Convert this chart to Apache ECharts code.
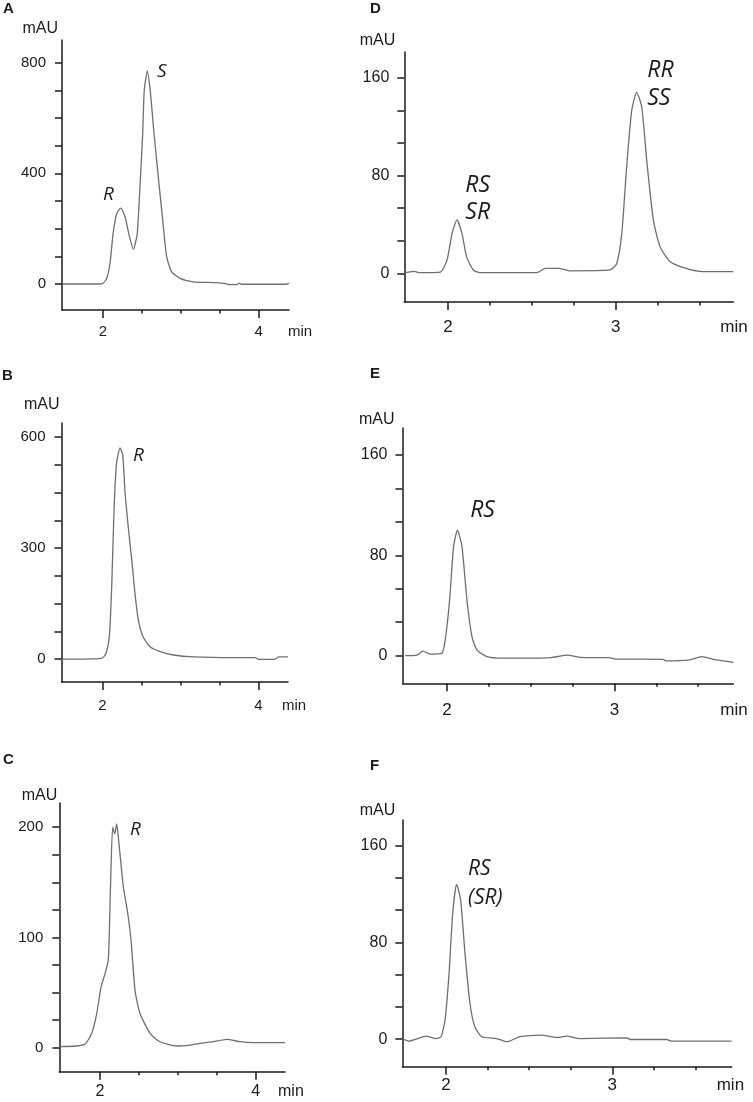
<!DOCTYPE html>
<html><head><meta charset="utf-8">
<script src="https://cdn.jsdelivr.net/npm/echarts@6/dist/echarts.min.js"></script>
<style>html,body{margin:0;padding:0;background:#fff}#c{width:753px;height:1102px}</style>
</head><body><div id="c"></div>
<script>
// ---- data (time in min, absorbance in mAU) ----
const timeA=[1.48,1.95,2.0,2.047,2.09,2.13,2.176,2.228,2.283,2.34,2.39,2.44,2.475,2.51,2.53,2.57,2.61,2.655,2.71,2.767,2.818,2.88,2.99,3.16,3.46,3.58,3.62,3.72,3.75,3.78,4.35,4.39];
const valA=[0,0,3,20,75,183,255,274,243,171,125,183,352,545,701,770,689,545,388,231,99,45,20,8,5,1,-2,-2,3,-1,-1,2];
const timeB=[1.48,1.99,2.045,2.087,2.118,2.148,2.18,2.225,2.26,2.29,2.33,2.375,2.417,2.46,2.52,2.61,2.74,2.91,3.17,3.68,3.96,4.0,4.21,4.26,4.38];
const valB=[0,2,15,60,195,403,529,571,551,448,358,268,177,105,60,33,20,11,6,4,4,-1,-1,6,6];
const timeC=[1.48,1.70,1.81,1.893,1.958,2.013,2.064,2.107,2.137,2.163,2.19,2.214,2.248,2.30,2.356,2.398,2.45,2.514,2.643,2.77,2.986,3.157,3.285,3.456,3.628,3.80,3.97,4.377];
const valC=[1,1.5,3.3,13,31,55,67,80,152,200,194,203,182,146,122,98,52,31,13,5.4,1.5,2.4,3.9,5.4,7.6,5.4,4.5,4.5];
const timeD=[1.745,1.80,1.83,1.954,1.994,2.024,2.053,2.083,2.11,2.15,2.19,2.53,2.58,2.66,2.73,2.966,3.006,3.036,3.065,3.095,3.125,3.155,3.185,3.224,3.264,3.325,3.42,3.52,3.70];
const valD=[0.5,1.5,0.5,1,10.9,32.7,43.6,32.7,13.6,2.7,0.5,0.5,4,4,2,2.7,8,32.7,87,133,148,136,92,43.6,21.8,9.5,4,1.4,1.4];
const timeE=[1.751,1.82,1.857,1.90,1.97,1.99,2.016,2.04,2.063,2.09,2.12,2.15,2.18,2.24,2.34,2.44,2.62,2.72,2.80,2.97,3.01,3.29,3.31,3.45,3.52,3.61,3.71];
const valE=[0,0.5,3.7,1.3,1.9,12.5,44,87,100,87,44,15,4.5,-0.8,-2,-2,-1.6,0.5,-1.3,-1.6,-2.7,-2.9,-4.2,-3.4,-0.8,-3.4,-5.3];
const timeF=[1.743,1.78,1.82,1.88,1.94,1.97,1.994,2.018,2.04,2.064,2.088,2.114,2.144,2.174,2.215,2.305,2.365,2.445,2.575,2.666,2.726,2.806,3.087,3.107,3.327,3.357,3.718];
const valF=[0,-1.7,0,2.5,0.5,2,15.7,54,104,128,115,71,29.5,10,2,0.5,-2.2,2,3.3,1.4,2.5,0.5,1.1,-0.3,-0.3,-1.7,-1.7];

// ---- ticks / labels ----
const yTicksA=[0,100,200,300,400,500,600,700,800], yLabelsA=[0,400,800];
const yTicksB=[0,75,150,225,300,375,450,525,600], yLabelsB=[0,300,600];
const yTicksC=[0,25,50,75,100,125,150,175,200], yLabelsC=[0,100,200];
const yTicksR=[0,80/3,160/3,80,320/3,400/3,160], yLabelsR=[0,80,160];
const xMinorL=[2.5,3,3.5], xMajorL=[2,4];
const xMinorR=[2.25,2.5,2.75,3.25,3.5], xMajorR=[2,3];
const panelLetters=['A','B','C','D','E','F'];
const yUnit='mAU', xUnit='min';
// peak annotations: panel index, text, time (left edge), mAU (vertical centre)
const peakPanel=[0,0,1,2,3,3,3,3,4,5,5];
const peakText=['S','R','R','R','RR','SS','RS','SR','RS','RS','(SR)'];
const peakTime=[2.694,2.0,2.392,2.386,3.188,3.188,2.103,2.103,2.139,2.132,2.132];
const peakVal=[766,322,551,198,166,142.6,72.2,49.7,116,141,117];

// ---- layout / styling ----
const INK='#1b1b1b', LINE='#6f6f6f';
const panels=[
 {grid:{left:62,top:40,width:227,height:270}, x:[1.473,4.39], y:[-94,882], t:timeA,v:valA, yt:yTicksA,yl:yLabelsA, xmi:xMinorL,xma:xMajorL, ys:15,xs:15,xm:14,ym:16,ngx:-1,ngy:11,npy:4,ns:16, letter:[3,1], ps:19},
 {grid:{left:61.5,top:423,width:226.5,height:259}, x:[1.474,4.38], y:[-62,638], t:timeB,v:valB, yt:yTicksB,yl:yLabelsB, xmi:xMinorL,xma:xMajorL, ys:15,xs:15,xm:16,ym:16,ngx:-6,ngy:18,npy:2,ns:16, letter:[2,368], ps:19},
 {grid:{left:59.3,top:803,width:225.7,height:268.7}, x:[1.477,4.377], y:[-21.8,222], t:timeC,v:valC, yt:yTicksC,yl:yLabelsC, xmi:xMinorL,xma:xMajorL, ys:15,xs:16,xm:12,ym:16,ngx:-7,ngy:7,npy:2,ns:16, letter:[3,752], ps:19},
 {grid:{left:404.3,top:52,width:329,height:250}, x:[1.739,3.701], y:[-23.5,181], t:timeD,v:valD, yt:yTicksR,yl:yLabelsR, xmi:xMinorR,xma:xMajorR, ys:16,xs:17,xm:17,ym:15,ngx:-13,ngy:11,npy:9,ns:16, letter:[370,1], ps:23},
 {grid:{left:402.5,top:428,width:330.8,height:255.3}, x:[1.735,3.71], y:[-22,181.5], t:timeE,v:valE, yt:yTicksR,yl:yLabelsR, xmi:xMinorR,xma:xMajorR, ys:16,xs:17,xm:19,ym:15,ngx:-13,ngy:8,npy:8,ns:16, letter:[370,366], ps:23},
 {grid:{left:402.3,top:820,width:329.4,height:246.7}, x:[1.737,3.718], y:[-22.8,181.3], t:timeF,v:valF, yt:yTicksR,yl:yLabelsR, xmi:xMinorR,xma:xMajorR, ys:16,xs:17,xm:10,ym:15,ngx:-15,ngy:9,npy:7,ns:16, letter:[370,758], ps:21}
];
const FONT='"Liberation Sans", Arial, sans-serif';

const chart=echarts.init(document.getElementById('c'),null,{renderer:'canvas'});
const option={animation:false,backgroundColor:'#fff',title:[],grid:[],xAxis:[],yAxis:[],series:[]};
const lineSt={color:INK,width:1.5};
panels.forEach((p,i)=>{
  option.grid.push(Object.assign({outerBoundsMode:'none',containLabel:false},p.grid));
  option.xAxis.push({type:'value',gridIndex:i,position:'bottom',offset:0,min:p.x[0],max:p.x[1],
    axisLine:{show:true,onZero:false,lineStyle:lineSt},splitLine:{show:false},
    axisTick:{show:true,customValues:p.xmi,length:3.5,lineStyle:lineSt},axisLabel:{show:false}});
  option.xAxis.push({type:'value',gridIndex:i,position:'bottom',offset:0,min:p.x[0],max:p.x[1],
    axisLine:{show:false,onZero:false},splitLine:{show:false},
    axisTick:{show:true,customValues:p.xma,length:8,lineStyle:lineSt},
    axisLabel:{show:true,customValues:p.xma,margin:p.xm,fontSize:p.xs,color:INK,fontFamily:FONT,verticalAlign:'top'},
    name:xUnit,nameLocation:'end',nameGap:p.ngx,
    nameTextStyle:{align:'left',verticalAlign:'top',padding:[p.xm,0,0,0],fontSize:p.xs,color:INK,fontFamily:FONT}});
  option.yAxis.push({type:'value',gridIndex:i,position:'left',min:p.y[0],max:p.y[1],
    axisLine:{show:true,onZero:false,lineStyle:lineSt},splitLine:{show:false},
    axisTick:{show:true,customValues:p.yt,length:7,lineStyle:lineSt},
    axisLabel:{show:true,customValues:p.yl,margin:p.ym,fontSize:p.ys,color:INK,fontFamily:FONT},
    name:yUnit,nameLocation:'end',nameGap:p.ngy,
    nameTextStyle:{align:'right',verticalAlign:'middle',padding:[0,p.npy,0,0],fontSize:p.ns,color:INK,fontFamily:FONT}});
  option.series.push({type:'line',xAxisIndex:2*i,yAxisIndex:i,data:p.t.map((t,k)=>[t,p.v[k]]),
    showSymbol:false,symbol:'none',smooth:0.2,clip:true,lineStyle:{color:LINE,width:1.3},silent:true});
  option.title.push({text:panelLetters[i],left:p.letter[0],top:p.letter[1],padding:0,
    textStyle:{fontSize:15,fontWeight:'bold',color:INK,fontFamily:FONT}});
});
chart.setOption(option);

const gfx=peakText.map((txt,k)=>{
  const i=peakPanel[k];
  const pt=chart.convertToPixel({xAxisIndex:2*i,yAxisIndex:i},[peakTime[k],peakVal[k]]);
  return {type:'text',x:pt[0],y:pt[1],silent:true,
    style:{text:txt,fontSize:panels[i].ps,fontStyle:'italic',fontFamily:'"Open Sans", sans-serif',
      fill:INK,align:'left',verticalAlign:'middle',textAlign:'left',textVerticalAlign:'middle'}};
});
chart.setOption({graphic:gfx});
</script>
</body></html>
